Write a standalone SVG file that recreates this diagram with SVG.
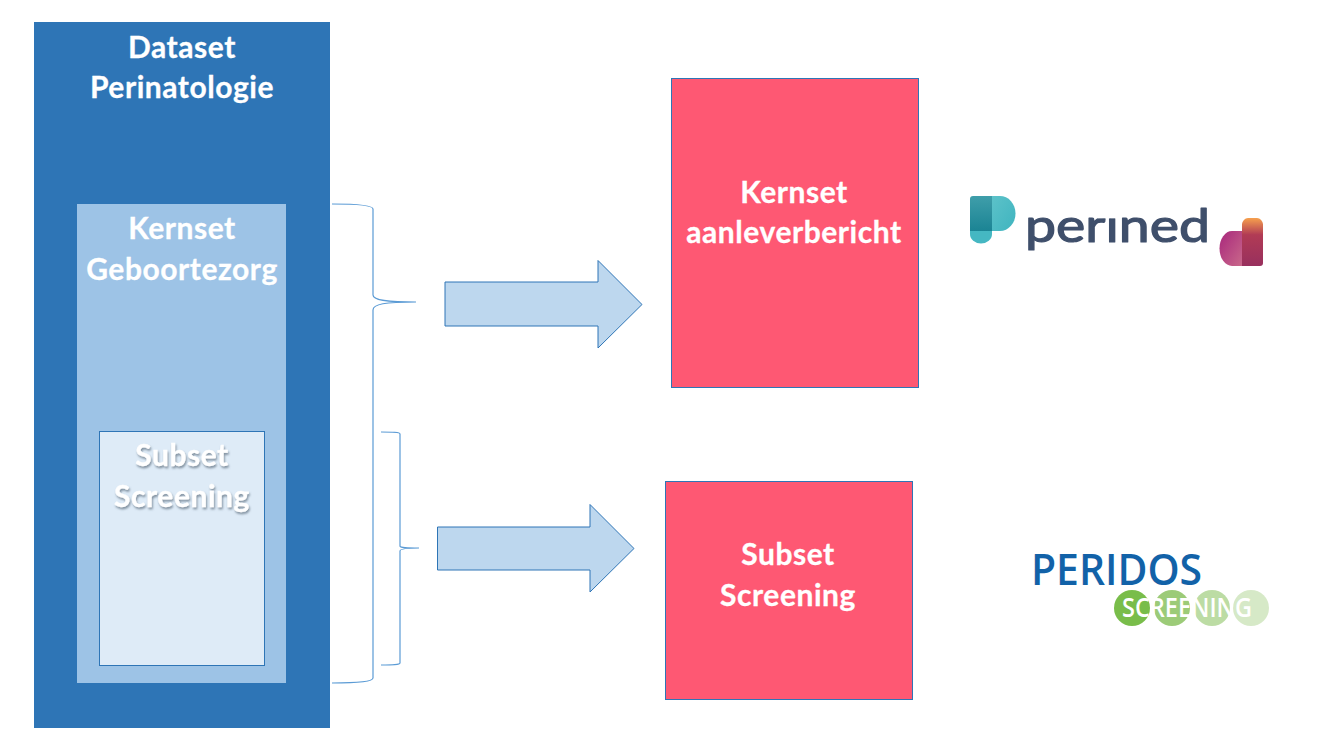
<svg xmlns="http://www.w3.org/2000/svg" width="1333" height="750" viewBox="0 0 1333 750">
  <defs>
    <linearGradient id="tealDark" x1="0" y1="0" x2="0" y2="1"><stop offset="0" stop-color="#3f9eaa"/><stop offset="1" stop-color="#1b8494"/></linearGradient>
    <linearGradient id="tealLight" x1="0" y1="0" x2="1" y2="1"><stop offset="0" stop-color="#5cc2c9"/><stop offset="1" stop-color="#3fb4bf"/></linearGradient>
    <linearGradient id="magenta" x1="0" y1="0" x2="1" y2="1"><stop offset="0" stop-color="#a8277c"/><stop offset="1" stop-color="#c9688a"/></linearGradient>
    <linearGradient id="orangeRed" x1="0" y1="0" x2="0" y2="1"><stop offset="0" stop-color="#f6a04d"/><stop offset="0.35" stop-color="#b13b55"/><stop offset="1" stop-color="#98305e"/></linearGradient>
    <filter id="softShadow" x="-10%" y="-20%" width="120%" height="150%">
      <feDropShadow dx="1" dy="2" stdDeviation="1.2" flood-color="#5a6a7a" flood-opacity="0.7"/>
    </filter>
    <!-- The wordmark's i has a plain stem: the notch trims its dot -->
    <clipPath id="wordmarkClip"><path d="M1015 196 H1098 V218.500 H1118 V196 H1220 V260 H1015 Z"/></clipPath>
  </defs>
  <style>
    .label { font-family: "Lato", "Liberation Sans", sans-serif; font-weight: 700; font-size: 30px; letter-spacing: 0.55px; fill: #ffffff; stroke: #ffffff; stroke-width: 0.3px; text-anchor: middle; }
    .red { fill: #fe5873; stroke: #2e75b6; stroke-width: 1; }
    .arrow { fill: #bdd7ee; stroke: #2e75b6; stroke-width: 1; }
    .brace { fill: none; stroke: #5b9bd5; stroke-width: 1.2; }
  </style>
  <rect width="1333" height="750" fill="#ffffff"/>

  <g id="dataset">
    <rect x="34" y="22" width="296" height="706" fill="#2e75b6"/>
    <text class="label" x="182" y="58">Dataset</text>
    <text class="label" x="182" y="98">Perinatologie</text>
  </g>
  <g id="kernset-geboortezorg">
    <rect x="77" y="204" width="209" height="479" fill="#9dc3e6"/>
    <text class="label" x="182" y="239">Kernset</text>
    <text class="label" x="182" y="280">Geboortezorg</text>
  </g>
  <g id="subset-screening-inner">
    <rect x="99.500" y="431.500" width="165" height="234" fill="#deebf7" stroke="#2e75b6"/>
    <text class="label" x="182" y="466" filter="url(#softShadow)">Subset</text>
    <text class="label" x="182" y="507" filter="url(#softShadow)">Screening</text>
  </g>

  <g id="connectors">
    <path class="brace" d="M332 204 C355 204 373 205 373 209 V295 C373 300 385 302 416 302 C385 302 373 304 373 310 V678 C373 682 355 683 332 683"/>
    <path class="brace" d="M381 432 C392 432 400 432 400 434 V546 C400 548 405 548 419 548 C405 548 400 549 400 551 V663 C400 665 392 665 381 665"/>
    <polygon class="arrow" points="445,282 598,282 598,260.500 642,304.500 598,348 598,326 445,326"/>
    <polygon class="arrow" points="437.500,527 590,527 590,504.500 634,548.500 590,592 590,570 437.500,570"/>
  </g>

  <g id="kernset-aanleverbericht">
    <rect class="red" x="671.500" y="78.500" width="247" height="309"/>
    <text class="label" x="794" y="203">Kernset</text>
    <text class="label" x="794" y="243">aanleverbericht</text>
  </g>
  <g id="subset-screening">
    <rect class="red" x="665.500" y="481.500" width="247" height="218"/>
    <text class="label" x="788" y="565">Subset</text>
    <text class="label" x="788" y="606">Screening</text>
  </g>

  <g id="logo-perined">
    <path d="M992 196 H1000 A15.500 17.500 0 0 1 1000 231 H992 Z" fill="url(#tealLight)"/>
    <path d="M970 231 H992 V234 A11 9.500 0 0 1 970 234 Z" fill="#45b7c2"/>
    <path d="M973 196 H992 V231 H970 V199 A3 3 0 0 1 973 196 Z" fill="url(#tealDark)"/>
    <text x="1025" y="242" clip-path="url(#wordmarkClip)" font-family="Lato, 'Liberation Sans', sans-serif" font-size="47" fill="#3f4f6b" stroke="#3f4f6b" stroke-width="1.2" stroke-linejoin="round" textLength="185" lengthAdjust="spacingAndGlyphs">perined</text>
    <path d="M1242 231 H1232 A12.500 17.500 0 0 0 1232 266 H1242 Z" fill="url(#magenta)"/>
    <path d="M1242 224 A6.500 6.500 0 0 1 1248 218 H1257 A6.500 6.500 0 0 1 1263 224 V263 A3 3 0 0 1 1260 266 H1242 Z" fill="url(#orangeRed)"/>
  </g>

  <g id="logo-peridos">
    <text x="1031" y="585" font-family="'Open Sans', 'Liberation Sans', sans-serif" font-weight="600" font-size="44" fill="#1262a8" textLength="171" lengthAdjust="spacingAndGlyphs">PERIDOS</text>
    <circle cx="1132" cy="608" r="18" fill="#79bd4a"/>
    <circle cx="1172" cy="608" r="18" fill="#9ccb78"/>
    <circle cx="1212" cy="608" r="18" fill="#bcdca4"/>
    <circle cx="1251" cy="608" r="18" fill="#d6e9c7"/>
    <text x="1122" y="617" font-family="'Open Sans', 'Liberation Sans', sans-serif" font-weight="600" font-size="27" fill="#ffffff" textLength="130" lengthAdjust="spacingAndGlyphs">SCREENING</text>
  </g>
</svg>
